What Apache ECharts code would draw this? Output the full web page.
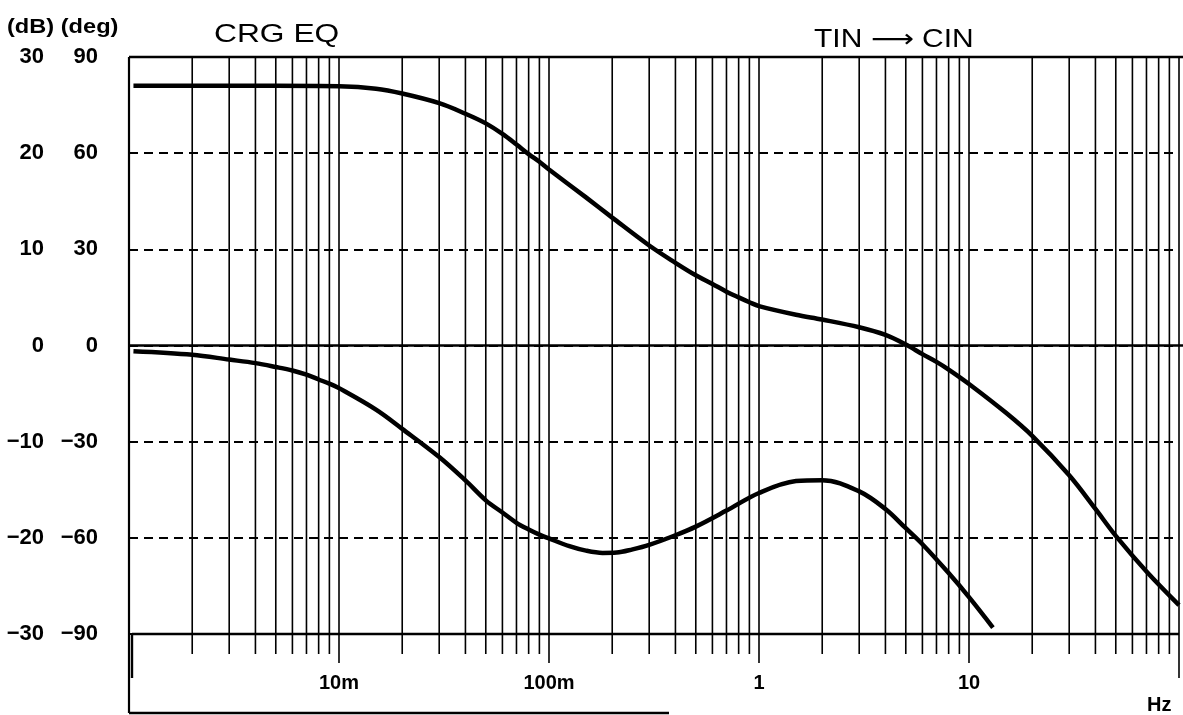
<!DOCTYPE html>
<html>
<head>
<meta charset="utf-8">
<script src="https://cdn.jsdelivr.net/npm/echarts@6/dist/echarts.min.js"></script>
<style>
html,body{margin:0;padding:0;background:#fff;}
#c{width:1183px;height:715px;}
</style>
</head>
<body>
<div id="c"></div>
<script>
// ---- data ----
const gainFreq = [0.00105, 0.002, 0.005, 0.01, 0.015, 0.02, 0.03, 0.04, 0.05, 0.06, 0.07, 0.08, 0.09, 0.1, 0.15, 0.2, 0.3, 0.4, 0.5, 0.6, 0.7, 0.8, 0.9, 1, 1.5, 2, 3, 4, 5, 6, 7, 8, 10, 15, 20, 30, 40, 50, 70, 100];
const gainDb   = [27.0, 27.0, 27.0, 26.95, 26.7, 26.2, 25.2, 24.1, 23.1, 22.0, 20.9, 19.9, 19.1, 18.3, 15.4, 13.3, 10.4, 8.6, 7.3, 6.4, 5.6, 5.0, 4.5, 4.1, 3.2, 2.7, 1.9, 1.1, 0.1, -0.9, -1.7, -2.5, -4.0, -7.0, -9.4, -13.5, -17.0, -19.8, -23.5, -27.0];

const phaseFreq = [0.00105, 0.002, 0.003, 0.004, 0.005, 0.006, 0.007, 0.008, 0.009, 0.01, 0.015, 0.02, 0.03, 0.04, 0.05, 0.06, 0.07, 0.08, 0.09, 0.1, 0.125, 0.15, 0.18, 0.21, 0.25, 0.3, 0.4, 0.5, 0.7, 1, 1.5, 2, 3, 4, 5, 6, 8, 10, 13];
const phaseDeg  = [-1.8, -2.9, -4.4, -5.5, -6.7, -7.8, -9.1, -10.6, -11.9, -13.3, -20.0, -26.0, -34.8, -42.1, -48.3, -52.1, -55.3, -57.4, -59.0, -60.2, -62.6, -64.0, -64.7, -64.6, -63.6, -62.2, -59.2, -56.5, -51.5, -46.0, -42.3, -42.0, -45.5, -51.0, -57.0, -62.0, -71.0, -78.5, -88.0];

const decades = [0.001, 0.01, 0.1, 1, 10, 100];
const multipliers = [1, 2, 3, 4, 5, 6, 7, 8, 9];
const xTickLabels = {'-3': '', '-2': '10m', '-1': '100m', '0': '1', '1': '10', '2': ''};
const dbTicks = [-30, -20, -10, 0, 10, 20, 30];
const degTicks = [-90, -60, -30, 0, 30, 60, 90];
const texts = {title: 'CRG EQ', path: 'TIN \u27F6 CIN', units: '(dB) (deg)', xUnit: 'Hz'};

// vertical grid values built from decades x multipliers: [freq, kind] kind: 0 minor, 1 decade, 2 edge
const vGrid = [];
decades.forEach((d, di) => {
  multipliers.forEach(m => {
    if (di === decades.length - 1 && m > 1) return;
    const f = +(d * m).toPrecision(6);
    let kind = m === 1 ? 1 : 0;
    if ((di === 0 || di === decades.length - 1) && m === 1) kind = 2;
    vGrid.push([f, kind]);
  });
});

const FONT = '"Liberation Sans", Arial, Helvetica, "DejaVu Sans", sans-serif';
const fmtNum = v => (v < 0 ? '\u2212' + Math.abs(v) : String(v));
const chart = echarts.init(document.getElementById('c'), null, {renderer: 'canvas'});

const option = {
  backgroundColor: '#fff',
  animation: false,
  graphic: [
    {type: 'text', x: 214, y: 35, scaleX: 1.27, silent: true,
      style: {text: texts.title, fontFamily: FONT, fontSize: 25, fontWeight: 'normal', fill: '#000', verticalAlign: 'middle'}},
    {type: 'text', x: 814, y: 40, scaleX: 1.2, silent: true,
      style: {text: texts.path, fontFamily: FONT, fontSize: 25, fontWeight: 'normal', fill: '#000', verticalAlign: 'middle'}},
    {type: 'text', x: 7, y: 27, scaleX: 1.18, silent: true,
      style: {text: texts.units, fontFamily: FONT, fontSize: 20, fontWeight: 'bold', fill: '#000', verticalAlign: 'middle'}},
    {type: 'text', x: 1147, y: 705, silent: true,
      style: {text: texts.xUnit, fontFamily: FONT, fontSize: 20, fontWeight: 'bold', fill: '#000', verticalAlign: 'middle'}}
  ],
  grid: {left: 129, right: 4, top: 57, bottom: 81, containLabel: false},
  xAxis: {
    type: 'log', logBase: 10, min: 0.001, max: 100, splitNumber: 5,
    axisLine: {show: false}, axisTick: {show: false}, splitLine: {show: false}, minorTick: {show: false},
    axisLabel: {
      margin: 39, fontFamily: FONT, fontSize: 20, fontWeight: 'bold', color: '#000',
      formatter: v => xTickLabels[String(Math.round(Math.log10(v)))] || ''
    }
  },
  yAxis: [
    {
      type: 'value', min: -90, max: 90, interval: 30, position: 'left',
      axisLine: {show: false}, axisTick: {show: false},
      axisLabel: {margin: 31, fontFamily: FONT, fontSize: 22, fontWeight: 'bold', color: '#000',
        formatter: v => degTicks.indexOf(v) >= 0 ? fmtNum(v) : ''},
      splitLine: {show: true, lineStyle: {color: '#000', width: 2, type: [9, 6]}}
    },
    {
      type: 'value', min: -30, max: 30, interval: 10, position: 'left', offset: 54,
      axisLine: {show: false}, axisTick: {show: false},
      axisLabel: {margin: 31, fontFamily: FONT, fontSize: 22, fontWeight: 'bold', color: '#000',
        formatter: v => dbTicks.indexOf(v) >= 0 ? fmtNum(v) : ''},
      splitLine: {show: false}
    }
  ],
  series: [
    {
      type: 'custom', name: 'vgrid', xAxisIndex: 0, yAxisIndex: 0, clip: false, silent: true, z: 1,
      data: vGrid,
      renderItem: function (params, api) {
        const f = api.value(0), kind = api.value(1);
        const p0 = api.coord([f, 90]);
        const p1 = api.coord([f, -90]);
        let ext = kind === 1 ? 29 : (kind === 2 ? 44 : 20);
        let w = 1.6;
        if (kind === 2 && params.dataIndex === 0) { ext = 79; w = 2.2; }
        return {type: 'line', shape: {x1: p0[0], y1: p0[1], x2: p1[0], y2: p1[1] + ext},
          style: {stroke: '#000', lineWidth: w}};
      }
    },
    {
      type: 'custom', name: 'frame', xAxisIndex: 0, yAxisIndex: 0, clip: false, silent: true, z: 2,
      data: [[decades[0], 0]],
      renderItem: function (params, api) {
        const xmin = decades[0], xmax = decades[decades.length - 1];
        const tl = api.coord([xmin, 90]), tr = api.coord([xmax, 90]);
        const zl = api.coord([xmin, 0]), zr = api.coord([xmax, 0]);
        const bl = api.coord([xmin, -90]), br = api.coord([xmax, -90]);
        const st = {stroke: '#000', lineWidth: 2.4};
        return {type: 'group', children: [
          {type: 'line', shape: {x1: tl[0], y1: tl[1], x2: tr[0] + 4, y2: tr[1]}, style: st},
          {type: 'line', shape: {x1: zl[0], y1: zl[1], x2: zr[0] + 4, y2: zr[1]}, style: st},
          {type: 'line', shape: {x1: bl[0] + 3, y1: bl[1], x2: br[0], y2: br[1]}, style: st},
          {type: 'line', shape: {x1: bl[0] + 3, y1: bl[1], x2: bl[0] + 3, y2: bl[1] + 44}, style: st},
          {type: 'line', shape: {x1: bl[0], y1: bl[1] + 79, x2: bl[0] + 540, y2: bl[1] + 79}, style: st}
        ]};
      }
    },
    {
      type: 'line', name: 'gain (dB)', yAxisIndex: 1, z: 5,
      data: gainFreq.map((f, i) => [f, gainDb[i]]),
      smooth: 0.35, symbol: 'none', lineStyle: {color: '#000', width: 4.5}
    },
    {
      type: 'line', name: 'phase (deg)', yAxisIndex: 0, z: 5,
      data: phaseFreq.map((f, i) => [f, phaseDeg[i]]),
      smooth: 0.35, symbol: 'none', lineStyle: {color: '#000', width: 4.5}
    }
  ]
};
chart.setOption(option);
</script>
</body>
</html>
